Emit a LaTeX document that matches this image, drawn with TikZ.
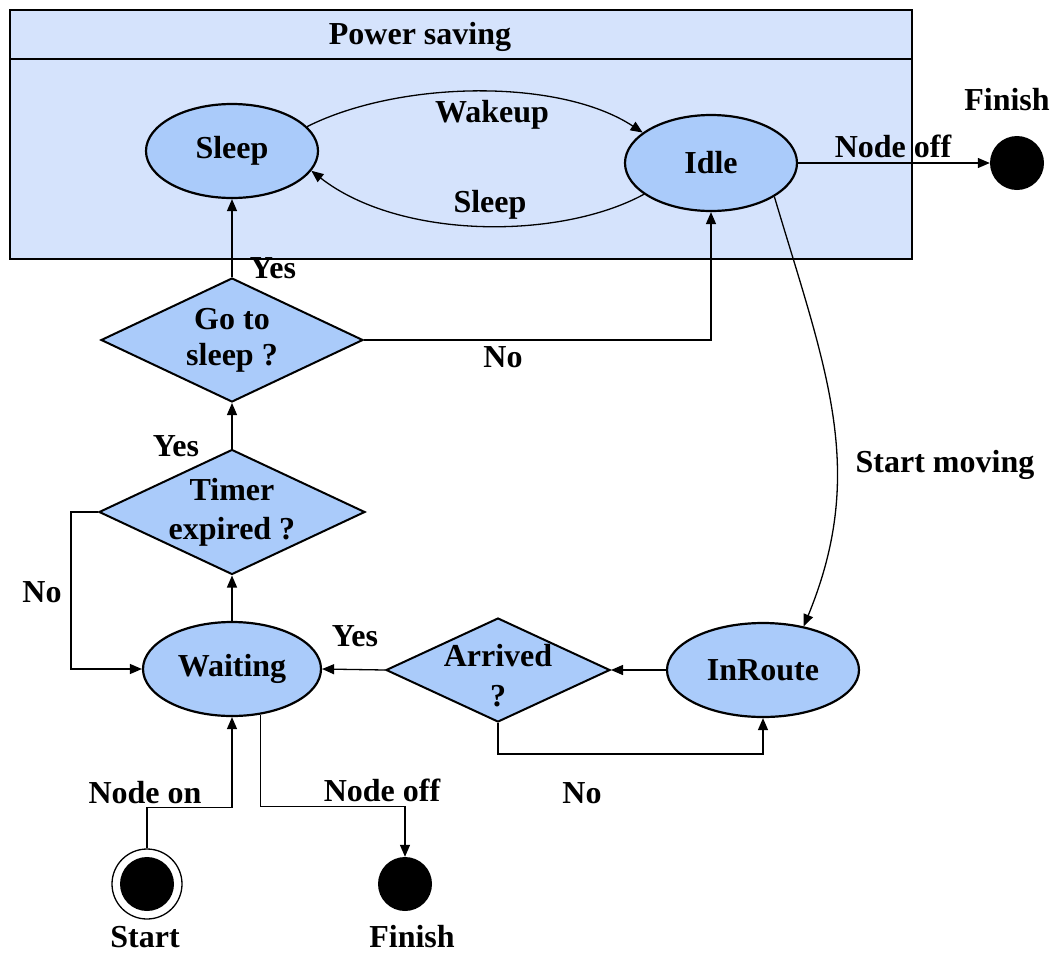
\documentclass[tikz,border=0pt]{standalone}
\usepackage{fontspec}
\setmainfont{Liberation Serif}
\usetikzlibrary{shapes.geometric,arrows.meta,calc}
\definecolor{psfill}{RGB}{213,227,252}
\definecolor{nodefill}{RGB}{170,203,250}
\begin{document}
\begin{tikzpicture}[x=1pt,y=-1pt,
  every node/.style={font=\fontsize{32}{36}\selectfont\bfseries},
  state/.style={ellipse, draw, line width=2.2pt, fill=nodefill, inner sep=0pt},
  decision/.style={diamond, draw, line width=2pt, fill=nodefill, inner sep=0pt},
  dot/.style={circle, fill=black, inner sep=0pt, minimum size=#1},
  conn/.style={line width=1.3pt},
  arr/.style={conn, -{Triangle[length=12pt,width=10pt]}},
  lbl/.style={inner sep=0pt}
]
\useasboundingbox (0,0) rectangle (1053,954);

% Power saving composite state
\node[draw, line width=2pt, fill=psfill, minimum width=902, minimum height=249, inner sep=0pt] (ps) at (461,134.5) {};
\draw[line width=2pt] ($(ps.north west)+(0,50)$) -- ($(ps.north east)+(0,50)$);
\node[lbl] (pstitle) at (420,37) {Power saving};

% States
\node[state, minimum width=172, minimum height=94] (sleep) at (232,151) {Sleep};
\node[state, minimum width=172, minimum height=96] (idle) at (711,163) {Idle};
\node[state, minimum width=178, minimum height=94] (waiting) at (232,669) {Waiting};
\node[state, minimum width=192, minimum height=94] (inroute) at (763,670) {InRoute};

% Decisions
\node[decision, minimum width=262, minimum height=124,
      label={[align=center, font=\fontsize{32}{36}\selectfont\bfseries]center:Go to\\sleep ?}] (goto) at (232,340) {};
\node[decision, minimum width=266, minimum height=125,
      label={[align=center, font=\fontsize{32}{39}\selectfont\bfseries]center:Timer\\expired ?}] (timer) at (232,512) {};
\node[decision, minimum width=224, minimum height=104,
      label={[align=center, yshift=-6pt, font=\fontsize{32}{40}\selectfont\bfseries]center:Arrived\\?}] (arrived) at (498,670) {};

% Initial and final states
\node[circle, draw, line width=1.3pt, fill=white, minimum size=70, inner sep=0pt,
      path picture={\fill[black] (path picture bounding box.center) circle (27);}] (start) at (147,884) {};
\node[dot=54] (finA) at (1017,163) {};
\node[dot=54] (finB) at (405,884) {};

% Transitions inside power saving
\draw[arr] (sleep.18) .. controls (400,80) and (560,78) .. (idle.156);
\draw[arr] (idle.205) .. controls (560,240) and (400,240) .. (sleep.-14);
\draw[arr] (idle.east) -- (finA.west);

% Decision flow
\draw[arr] (goto.north) -- (sleep.south);
\draw[arr] (goto.east) -| (idle.south);
\draw[arr] (timer.north) -- (goto.south);
\draw[arr] (timer.west) -- ++(-27,0) |- (waiting.west);
\draw[arr] (waiting.north) -- (timer.south);
\draw[arr] (arrived.west) -- (waiting.east);
\draw[arr] (inroute.west) -- (arrived.east);
\draw[arr] (arrived.south) -- ++(0,31) -| (inroute.south);
\draw[arr] (idle.-28) .. controls (826,370) and (868,470) .. (inroute.47);

% Power on / off
\draw[arr] (start.north) -- ++(0,-41) -| (waiting.south);
\draw[arr] (waiting.-58) |- ++(0,92) -| (finB.north);

% Labels
\node[lbl] at (492,115) {Wakeup};
\node[lbl] at (490,205) {Sleep};
\node[lbl] at (1007,100) {Finish};
\node[lbl] at (893,146) {Node off};
\node[lbl] at (273,268) {Yes};
\node[lbl] at (503,357) {No};
\node[lbl] at (945,465) {Start moving};
\node[lbl] at (176,446) {Yes};
\node[lbl] at (42,592) {No};
\node[lbl] at (355,636) {Yes};
\node[lbl] at (582,793) {No};
\node[lbl] at (145,793) {Node on};
\node[lbl] at (382,790) {Node off};
\node[lbl] at (145,937) {Start};
\node[lbl] at (412,937) {Finish};
\end{tikzpicture}
\end{document}
